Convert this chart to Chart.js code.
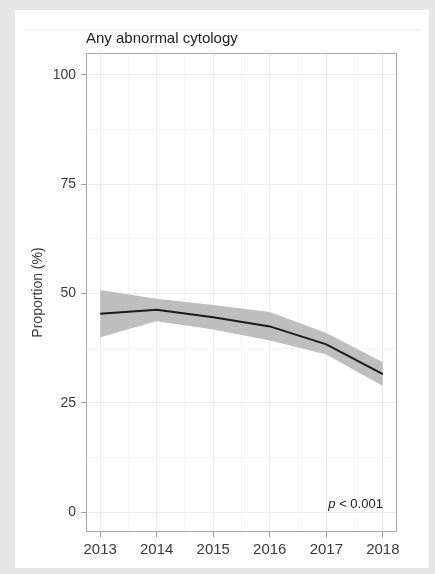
<!DOCTYPE html>
<html>
<head>
<meta charset="utf-8">
<script src="https://cdn.jsdelivr.net/npm/chart.js@4.4.1/dist/chart.umd.min.js"></script>
<style>
html,body{margin:0;padding:0;background:#e6e6e6;}
#wrap{position:absolute;left:0;top:0;width:435px;height:574px;}
</style>
</head>
<body>
<div id="wrap"><canvas id="chart" width="435" height="574"></canvas></div>
<script>
// ----------------------------
// DATA
// ----------------------------

const years = [2013, 2014, 2015, 2016, 2017, 2018]
const proportion = [45.4, 46.3, 44.6, 42.5, 38.4, 31.6]
const upperCI = [50.8, 48.8, 47.4, 45.8, 41.0, 34.3]
const lowerCI = [40.0, 43.7, 41.8, 39.3, 36.1, 28.9]
const yTicks = [0, 25, 50, 75, 100]

const chartTitle = "Any abnormal cytology"
const yTitle = "Proportion (%)"
const pText = "< 0.001"

const FONT = "'Liberation Sans', Arial, Helvetica, sans-serif"

function pts(arr){
  return years.map((y,i)=>({x:y, y:arr[i]}))
}

// ----------------------------
// card, panel border, title, p value
// ----------------------------

const decor = {
  id:"decor",
  beforeDraw(chart){
    const c = chart.ctx
    c.save()
    c.fillStyle = "#e6e6e6"
    c.fillRect(0,0,chart.width,chart.height)
    c.fillStyle = "#ffffff"
    c.fillRect(15,10,414,558)
    c.strokeStyle = "#ececec"
    c.lineWidth = 1
    c.beginPath()
    c.moveTo(24,29.5)
    c.lineTo(419,29.5)
    c.stroke()
    c.restore()
  },
  afterDraw(chart){
    const c = chart.ctx
    const a = chart.chartArea
    c.save()
    c.strokeStyle = "#a8a8a8"
    c.lineWidth = 1
    c.strokeRect(a.left+0.5, a.top+0.5, a.right-a.left-1, a.bottom-a.top-1)

    c.fillStyle = "#222"
    c.font = "15px " + FONT
    c.textBaseline = "alphabetic"
    c.textAlign = "left"
    c.fillText(chartTitle, a.left, 43)

    // p value, right aligned at the 2018 position
    const xr = chart.scales.x.getPixelForValue(2018)
    c.font = "13px " + FONT
    const w = c.measureText(" " + pText).width
    c.textAlign = "right"
    c.fillText(" " + pText, xr, 508)
    c.font = "italic 13px " + FONT
    c.fillText("p", xr - w, 508)
    c.restore()
  }
}

new Chart(document.getElementById("chart"),{
  type:"line",
  data:{
    datasets:[
      {
        label:"proportion",
        data:pts(proportion),
        borderColor:"#1a1a1a",
        borderWidth:2,
        pointRadius:0,
        fill:false,
        order:0
      },
      {
        label:"upper",
        data:pts(upperCI),
        borderWidth:0,
        pointRadius:0,
        backgroundColor:"#bebebe",
        fill:"+1",
        order:1
      },
      {
        label:"lower",
        data:pts(lowerCI),
        borderWidth:0,
        pointRadius:0,
        fill:false,
        order:2
      }
    ]
  },
  options:{
    responsive:false,
    animation:false,
    layout:{padding:{left:15, top:53, right:38, bottom:6}},
    plugins:{
      legend:{display:false},
      tooltip:{enabled:false}
    },
    scales:{
      x:{
        type:"linear",
        min:2012.75,
        max:2018.25,
        afterFit(s){ s.height = 36 },
        afterBuildTicks(s){
          s.ticks = []
          for(let v=2013; v<=2018; v+=0.5) s.ticks.push({value:v})
        },
        ticks:{
          autoSkip:false,
          maxRotation:0,
          padding:4,
          color:"#3a3a3a",
          font:{family:FONT, size:15},
          callback:v=>Number.isInteger(v) ? String(v) : ""
        },
        grid:{
          tickLength:5,
          color:ctx=>Number.isInteger(ctx.tick && ctx.tick.value) ? "#ebebeb" : "#f6f6f6",
          tickColor:ctx=>Number.isInteger(ctx.tick && ctx.tick.value) ? "#9a9a9a" : "rgba(0,0,0,0)"
        },
        border:{display:false}
      },
      y:{
        min:-4.5,
        max:105,
        afterFit(s){ s.width = 71 },
        afterBuildTicks(s){
          s.ticks = []
          for(let v=0; v<=100; v+=12.5) s.ticks.push({value:v})
        },
        ticks:{
          padding:5,
          color:"#3a3a3a",
          font:{family:FONT, size:14},
          callback:v=>yTicks.includes(v) ? String(v) : ""
        },
        grid:{
          tickLength:5,
          color:ctx=>yTicks.includes(ctx.tick && ctx.tick.value) ? "#ebebeb" : "#f6f6f6",
          tickColor:ctx=>yTicks.includes(ctx.tick && ctx.tick.value) ? "#9a9a9a" : "rgba(0,0,0,0)"
        },
        border:{display:false},
        title:{
          display:true,
          text:yTitle,
          color:"#3a3a3a",
          font:{family:FONT, size:14},
          padding:{top:15, bottom:0}
        }
      }
    }
  },
  plugins:[decor]
})
</script>
</body>
</html>
